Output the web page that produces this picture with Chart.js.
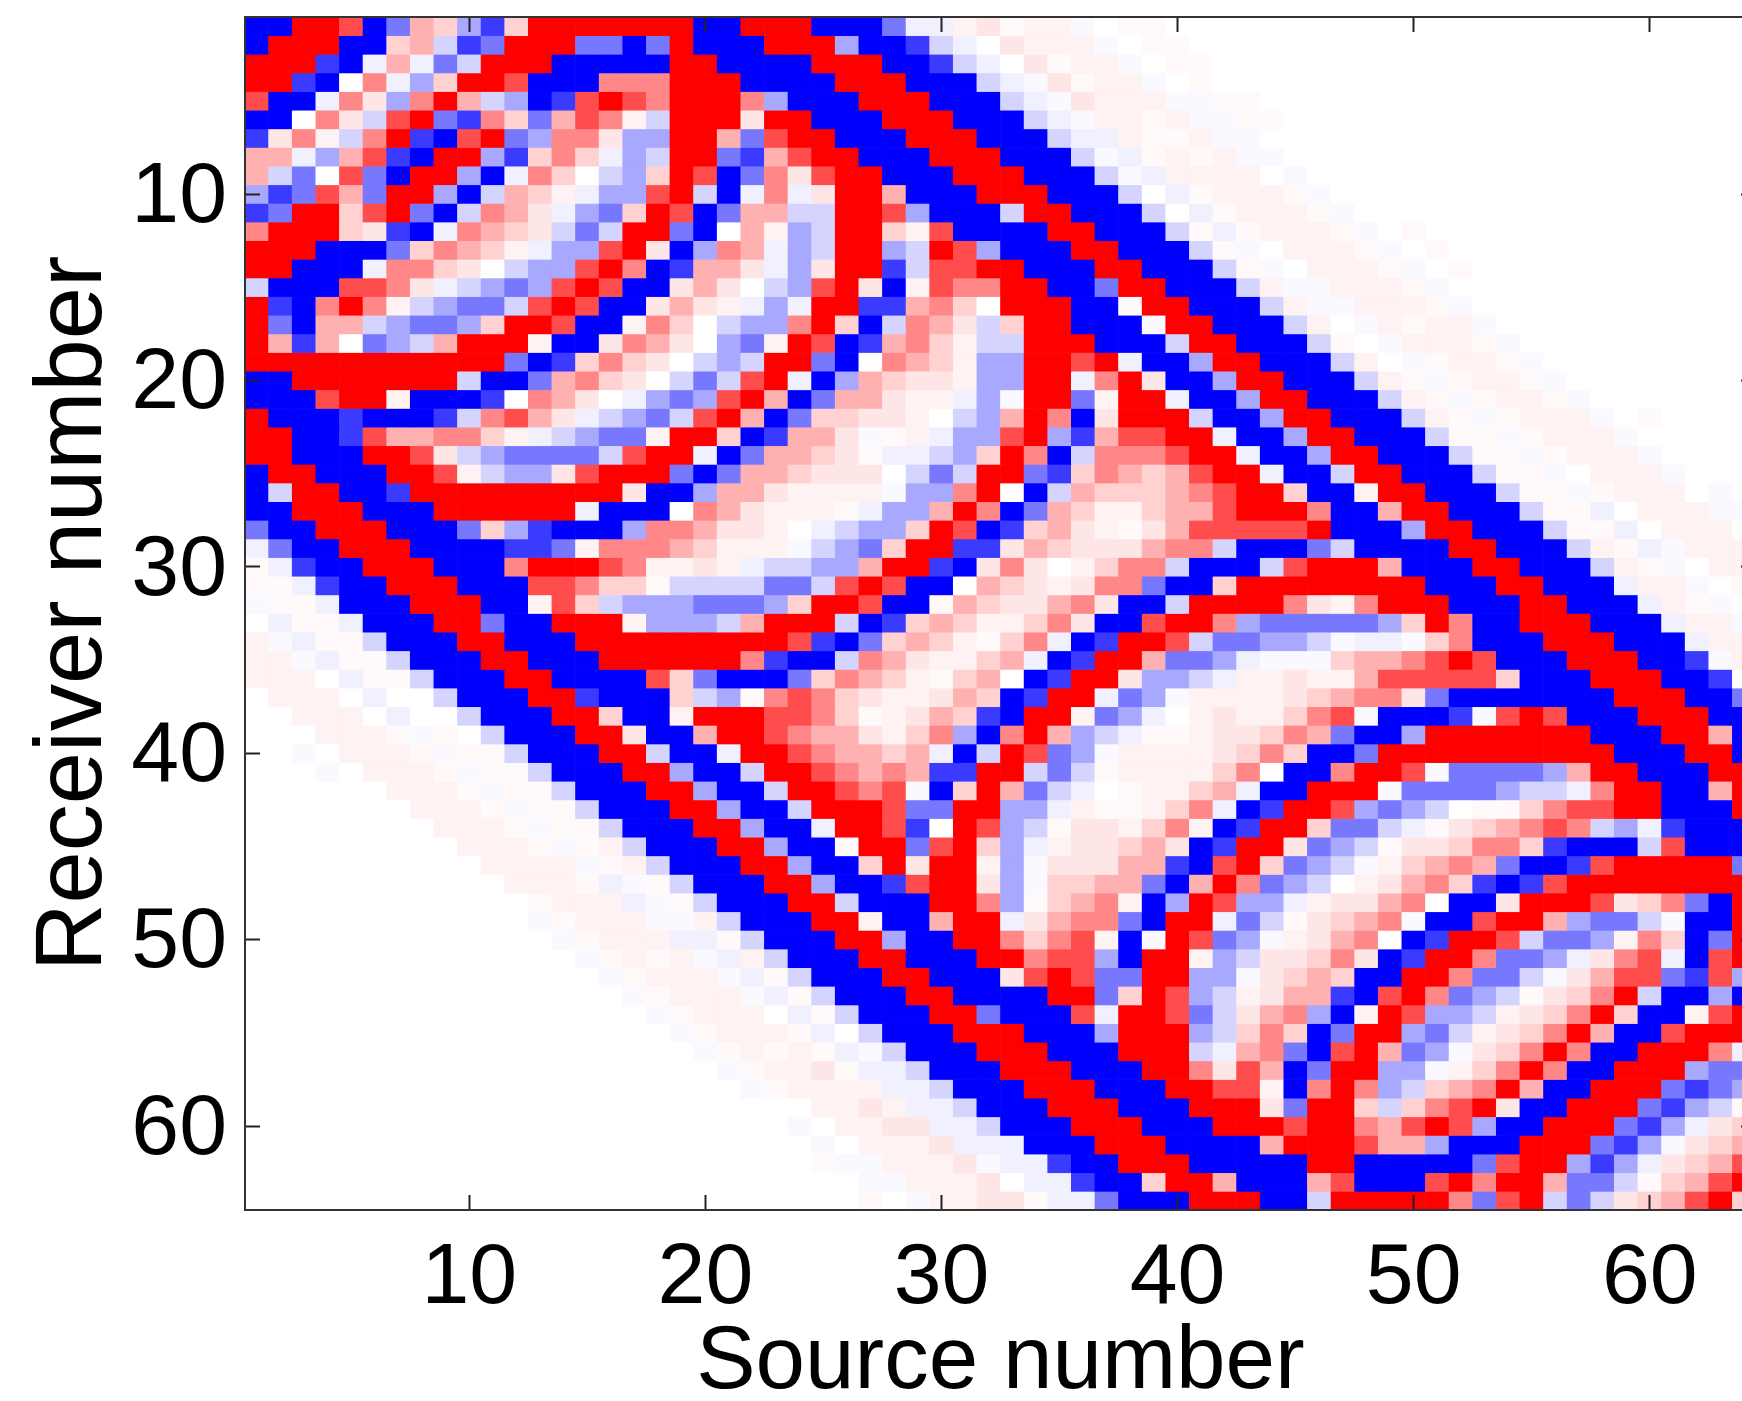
<!DOCTYPE html>
<html>
<head>
<meta charset="utf-8">
<script src="https://cdn.jsdelivr.net/npm/chart.js@4/dist/chart.umd.min.js"></script>
<style>
html, body { margin: 0; padding: 0; background: #fff; overflow: hidden; width: 1742px; height: 1401px; }
canvas { display: block; }
</style>
</head>
<body>
<canvas id="myChart" width="1800" height="1408"></canvas>
<script>
// the value of each letter in the rows below
let levelKeys = ['A', 'B', 'C', 'D', 'E', 'F', 'G', 'W', 'h', 'g', 'f', 'e', 'd', 'c', 'b', 'a'];
let levelValues = [-1, -0.77, -0.53, -0.34, -0.17, -0.06, -0.025, 0, 0.025, 0.05, 0.1, 0.18, 0.31, 0.47, 0.7, 1];

let xTicks = [10, 20, 30, 40, 50, 60];
let yTicks = [10, 20, 30, 40, 50, 60];

// one string per receiver, one letter per source (groups of 16 sources)
let rows = [
    'AAaabACdeDBeaaaa aaaAAaaaAAACFFgf hggGWhhWWWWWWWWW WWWWWWWWWWWWWWWW',
    'AaaaAAedEBCaaaCC ACaAAAaaaDAABEFW fgggGWhhWWWWWWWW WWWWWWWWWWWWWWWW',
    'aaaBAFdFCEaaaAAA AAaaAAAAaaaAABEF WfhggGWhhWWWWWWW WWWWWWWWWWWWWWWW',
    'aaBAWcFDeaabAAAc ccaaaAAAAaaaAAAE FGfhggGWhWWWWWWW WWWWWWWWWWWWWWWW',
    'bAAFcfDcadEDABba bcaaacDAAAaaaAAA EFGfgggGGhhWWWWW WWWWWWWWWWWWWWWW',
    'AAWcfEbaCBceCdbc gEaaafaaAAAaaaAA AEFGgghgGGhhWWWW WWWWWWWWWWWWWWWW',
    'BfcgEcaBAbaCDccf DDaadCbaaAAAaaaA AAEFFghhgGGWWWWW WWWWWWWWWWWWWWWW',
    'ddFDdbBAaaDBeceF DEaaCBdbaaAAAaaa AAAEGFhghgGGWWWW WWWWWWWWWWWWWWWW',
    'dECWbCAaaDAFceWE DeabACcfbaaAAAaa aAAAEGFggggWGWWW WWWWWWWWWWWWWWWW',
    'DBCbdCaaDAEdegFD DbaEAFcFfaadAAAa aaAAAEWFhggghGWW WWWWWWWWWWWWWWWW',
    'BCaaebaCAEcdfFDC eabACddEEaabDAAA EaaAAAEWFhggghGW WWWWWWWWWWWWWWWW',
    'caaaefBAFcdefECE aaCAWdgDEaaegbAA AAaaAAAEhFhggghG WhWWWWWWWWWWWWWW',
    'aaaAAACecdegFDDb afADcdFDEaaDEabD AAAaaAAAEhGWgggh GWhWWWWWWWWWWWWW',
    'aaAAAFccefWEDDba cABddfFDfaaBEbba aAAAaaAAAEhGWggg hGWhWWWWWWWWWWWW',
    'EAAAbbcfFEDCDbab AAfdfWEDbafAgbcc aaAACaaAAAEgGGgg ghGWWWWWWWWWWWWW',
    'aBAcacgEDCCEbabA AfdfgFDFaaBBdceW aaaAAhaaAAAEgGGg gghGWWWWWWWWWWWW',
    'aCAddEDCCDeaabAA gceWEDDcaeAEcdfE eaaAAAGaaAAAEgWG ghggGWWWWWWWWWWW',
    'adBdWCDEdaaagAAf cdfWDCgabABdcegE EaaaAAAEaaAAAEhW GggghGWWWWWWWWWW',
    'aaaaaaaaaaaCABec efWEDEaaCAWcdegD DaabaFAADaaAAAEg WGhgghGWWWWWWWWW',
    'AAaaaaaaaEAACdce fWECEbaFADdeffgD DaaFcafAADaaAAAE ghGhgghGWWWWWWWW',
    'AAAbaagAAABWcdfW FDCDbadACddfggFD GaaCgaaFAADaaAAA EghGhgghGWWWWWWW',
    'aAAABAAABEcbdfFE DCEbadACeeffgWED dacAfaaaEAADaaAA AEghGhgggGWhWWWW',
    'aaAABbddccegFEDC CgaaeABddfGhgFDD baDBdbbaaFAADaaA AAEhhGhgggGWWWWW',
    'aaAAAaabfEDCCCCE baaFACddefhFFEDe acAEcccbaaFAADaa AAAEhhGhgggGWWWW',
    'AaaAAAaabgEDDfba aaCACddefffWECEa aCBecdedbaaFAAEa aAAAEhhGWgggGWWW',
    'AEaaAABaaaaaaaaa fAADddfggggGDDca WAEdeeedcbaaeAAg aaAAAEhhGhgggWGW',
    'AAaaaAAAaaaaaaFA AAWcdfggghFDDdac ACdeggeddbaaacAA daaAAAEhhFWgggGG',
    'CAAaaaAAACeDBAAA DccdffgWFEDDeabA BedfghfdbbbbbaAA ADaaAAAEhhFWgggW',
    'FCAAaaaAAAABBCgc ccdegggGEDCeaaBB fdefffdccEAAACEA AAAaaAAAEghFGggg',
    'hFBAAaaaAAAcaaab cggfgFEEDDdaaBAf cfWgeccEAAAEbaaa dAAAaaAAAEghGWgg',
    'hhFBAAaaaAAAbbce ehEEEECCEbabAAWd efgfccCAAeaaaaaa aaAAAaaAAAFggGWh',
    'GhhFAAAaaaAAgbeE DDDCCCDeaabAAhde ffdcfAAEaaaacfgc aaaAAAaaAAAFghGW',
    'WFhhFAAAaaCAAaaa gDDDEdaaaEABedeg gecfAAbaacDCCCCC DeacAAaaaAAAFggG',
    'gGFhhEAAAaaAAAaa aaaaaaabBACedegh ecFABaabECCDDEGF FGecAAAaaaAAAFgg',
    'ggGFhhEAAAaaAAAa aaaaacBAAEcdfgge dFABaadCCDFGGGed dcbabAAAaaaAABGg',
    'gggWFhhEAAAaaAAA AbeCAAACecdeghed WABaafDDEFggfggd bbbbbeAAAaaaAABW',
    'WgggWFWWEAAAaaBA AAeEDhcbcefggfde ABaaFCDGggggfedc cfCAAAAAAAaaaAAC',
    'WWgggWFWWEAAAaae AAgaaabbcehgfdeB AaagCDFWgfggecbG AAABGbabAAAaaaAA',
    'WWWggghGhWEAAAaa fAAdaabcddfgecDA cadDEFhhgffecdCA ADaaaaaaaAAAaadA',
    'WWGWggghGhhEAAAa aEAAFaabcddedFAE abCDGggggfeceAAC aaaaaaaaaaAAAaaA',
    'WWWGWggghGhhEAAA aaDAAEaabcdcdBBa aECEhggggecWAAca abGCCCCDdaaAAAaa',
    'WWWWWWggghGhhEAA AaaDAAEaabcbGAea dCEFWhggedFAAaaa GCCCCDEEFcaaAAda',
    'WWWWWWWggghGhhEA AAaaDAAEaaabCCaa DDFghhgecFABaabD CDEWhhecbbaaAAAa',
    'WWWWWWWWggghGhhE AAAaaDAAFaabBWab DEhffgecgABaaeCC EFhfedcbcEDFBAAA',
    'WWWWWWWWWggghGhg EAAAaaDAAhaaCbae DFgffedfABaafCDE hffecceBAAAEbAAA',
    'WWWWWWWWWWggggGh gEAAAaaDAAeafaag DGfffddBAbaeCDEG gedcdCAABbaaaaaC',
    'WWWWWWWWWWWggghF GhEAAAaaDAABbaaf DGeeddCAdacCDEWg fdceBABbaaaaaaaa',
    'WWWWWWWWWWWWhggg FGhEAAAaaEAAAaac DhedcgADabDDFgff dcWAAfaaabfecCAa',
    'WWWWWWWWWWWWGhgg gGGgEAAAaagAAdaa FfdccCAaaFCEhfed cGAAbaadDCCEGAAa',
    'WWWWWWWWWWWWWGhg ggFFhEAAAaaDAAaa cecbgAGabCDGgfdc WABaabECCDgceACa',
    'WWWWWWWWWWWWWWGh ghgGFgEAAAaaAAAa acbbDAaagDEffecf ABaacCCDFfcbFAba',
    'WWWWWWWWWWWWWWWG hgggGFhEAAAaaAAA fbabCCaaDDGfedeA AaacCCEGfdbbCBbD',
    'WWWWWWWWWWWWWWWW GhgggGFhEAAAaaAA AAaaCeabDEgfddBA bacCDEhfecaEAADA',
    'WWWWWWWWWWWWWWWW WGhgggWFhEAAAaaC AAAbFaabCEfdcDAg abDDEgfecaeAAgba',
    'WWWWWWWWWWWWWWWW WWGhggghFWEAAAaa aAAADaaaDEeceACa aDCEgfecadAAbaaa',
    'WWWWWWWWWWWWWWWW WWWGhghghFGEAAAa aaAAAaaaEFdcCAba dCDGfecacAAaaacF',
    'WWWWWWWWWWWWWWWW WWWWGhggfhFFEAAA aaaAAAaacfbdACaa DDGgecacAAaaaDCC',
    'WWWWWWWWWWWWWWWW WWWWWGhggggFFEAA AaaaAAAaabbgAcac DEedcadAAaaaCBCD',
    'WWWWWWWWWWWWWWWW WWWWWWWWggfgFFEA AAaaaAAAaaafCaae EecbafAAaaaCBDEh',
    'WWWWWWWWWWWWWWWW WWWWWWWGWggffFFE AAAaaaAAAaaabaac dbabDAAaaaCBDFfe',
    'WWWWWWWWWWWWWWWW WWWWWWWWGWgggfFF FAAAaaaAAAAdaaab ddDAAAaaaCBDGfed',
    'WWWWWWWWWWWWWWWW WWWWWWWWhGGgggfG FFBAAaaaAAAAAaaA AAAACbaaDBDFfedb',
    'WWWWWWWWWWWWWWWW WWWWWWWWWWGGgggf WFFBAAeaadAAAdbA AAbacaadCCEhedba',
    'WWWWWWWWWWWWWWWW WWWWWWWWWWhWGggf fhFFCAAAaaaAAEaa aaacCbaECEfedbae'
];

// blue - white - red colormap
function cellColor(v) {
    let k = Math.round(255 * (1 - Math.abs(v)));
    return v >= 0 ? `rgb(255, ${k}, ${k})` : `rgb(${k}, ${k}, 255)`;
}

// every receiver is one dataset of floating bars
let datasets = rows.map((row, r) => {
    let letters = row.replace(/ /g, '').split('');
    return {
        data: letters.map((_, c) => ({ x: c + 1, y: [r + 0.5, r + 1.5] })),
        backgroundColor: letters.map(l => cellColor(levelValues[levelKeys.indexOf(l)])),
        borderWidth: 0,
        grouped: false,
        barPercentage: 1,
        categoryPercentage: 1
    };
});

Chart.defaults.font.family = '"Liberation Sans", Arial, sans-serif';
Chart.defaults.color = '#000';

const tickFont = { size: 86, lineHeight: 1 };

// shared settings for the four sides of the box, ticks point inwards
function sideAxis(values, size, position, show) {
    return {
        type: 'linear',
        position: position,
        offset: false,
        min: 0.5,
        max: 64.5,
        afterBuildTicks: scale => { scale.ticks = values.map(v => ({ value: v })); },
        afterFit: scale => {
            if (scale.isHorizontal()) scale.height = size; else scale.width = size;
            // keep the labels from pushing the plot box around
            scale.paddingLeft = scale.paddingRight = scale.paddingTop = scale.paddingBottom = 0;
        },
        border: { display: true, color: '#333', width: 2, z: 2 },
        grid: { offset: false, drawOnChartArea: false, drawTicks: true, tickLength: -15, tickColor: '#222', tickWidth: 2, z: 2 },
        ticks: { display: show, autoSkip: false, maxRotation: 0, font: tickFont, color: '#000' }
    };
}

const xAxis = sideAxis(xTicks, 198, 'bottom', true);
xAxis.ticks.padding = 41;
xAxis.title = { display: true, text: 'Source number', font: { size: 89, lineHeight: 1 }, color: '#000', padding: { top: 0, bottom: 0 } };

const yAxis = sideAxis(yTicks, 245, 'left', true);
yAxis.reverse = true;
yAxis.ticks.padding = 33;
yAxis.ticks.labelOffset = 4;
yAxis.title = { display: true, text: 'Receiver number', font: { size: 94, lineHeight: 1 }, color: '#000', padding: { top: 28, bottom: 0 } };

const xTop = sideAxis(xTicks, 0, 'top', false);
const yRight = sideAxis(yTicks, 0, 'right', false);
yRight.reverse = true;

const chart = document.getElementById('myChart').getContext('2d');

const myChart = new Chart(chart, {
    type: 'bar',
    data: { datasets: datasets },
    options: {
        responsive: false,
        animation: false,
        layout: { padding: { top: 17, right: 44, bottom: 0, left: 0 } },
        plugins: {
            legend: { display: false },
            tooltip: { enabled: false }
        },
        scales: { x: xAxis, y: yAxis, xTop: xTop, yRight: yRight }
    }
});
</script>
</body>
</html>
